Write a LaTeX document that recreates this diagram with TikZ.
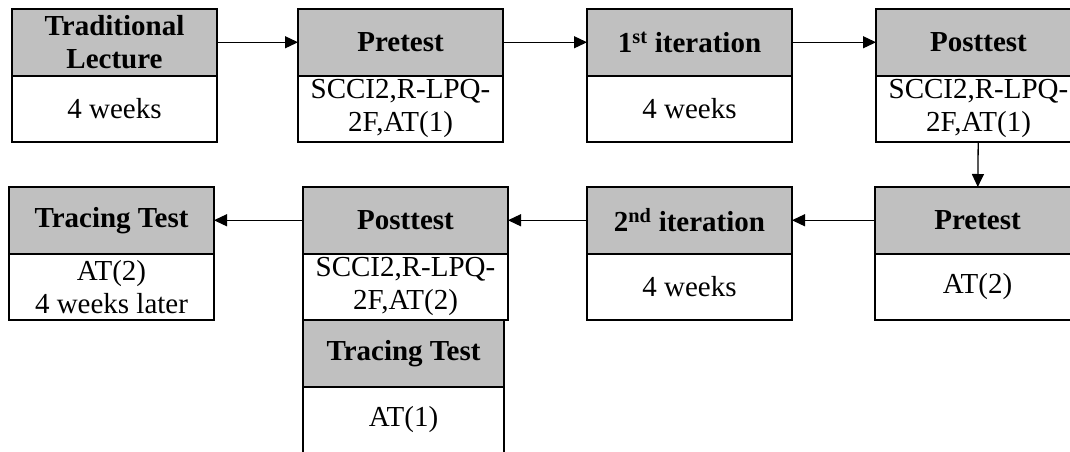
\documentclass[tikz,border=0pt]{standalone}
\usepackage{fontspec}
\setmainfont{Liberation Serif}
\usetikzlibrary{positioning}
\usetikzlibrary{arrows.meta}

\definecolor{headgray}{RGB}{192,192,192}

\tikzset{
  head/.style={draw, line width=2pt, fill=headgray, minimum width=205pt,
    minimum height=66.5pt, inner sep=0pt, outer sep=0pt, align=center,
    font=\fontsize{29}{33}\selectfont\bfseries},
  body/.style={draw, line width=2pt, fill=white, minimum width=205pt,
    minimum height=66.5pt, inner sep=0pt, outer sep=0pt, align=center,
    font=\fontsize{29}{33}\selectfont},
  link/.style={line width=1.3pt, -{Triangle[length=13pt, width=12pt]}}
}

\begin{document}
\begin{tikzpicture}[x=1pt, y=-1pt]
\useasboundingbox (0,0) rectangle (1070,451);
\clip (0,0) rectangle (1070,451);

% top row
\node[head] (lecH) at (114.5,42.25) {Traditional\\Lecture};
\node[body, below=0pt of lecH] (lecB) {4 weeks};

\node[head] (preAH) at (400.5,42.25) {Pretest};
\node[body, below=0pt of preAH] (preAB) {SCCI2,R-LPQ-\\2F,AT(1)};

\node[head] (itAH) at (689.5,42.25) {1\textsuperscript{st} iteration};
\node[body, below=0pt of itAH] (itAB) {4 weeks};

\node[head] (postAH) at (978.5,42.25) {Posttest};
\node[body, below=0pt of postAH] (postAB) {SCCI2,R-LPQ-\\2F,AT(1)};

% bottom row
\node[head] (preBH) at (977.5,220.25) {Pretest};
\node[body, below=0pt of preBH] (preBB) {AT(2)};

\node[head] (itBH) at (689.5,220.25) {2\textsuperscript{nd} iteration};
\node[body, below=0pt of itBH] (itBB) {4 weeks};

\node[head] (postBH) at (405.5,220.25) {Posttest};
\node[body, below=0pt of postBH] (postBB) {SCCI2,R-LPQ-\\2F,AT(2)};

\node[head] (traceBH) at (111.5,220.25) {Tracing Test};
\node[body, below=0pt of traceBH] (traceBB) {AT(2)\\4 weeks later};

\node[head, minimum width=201pt, anchor=north west] (traceAH) at (postBB.south west) {Tracing Test};
\node[body, minimum width=201pt, below=0pt of traceAH] (traceAB) {AT(1)};

\draw[link] (lecH) -- (preAH);
\draw[link] (preAH) -- (itAH);
\draw[link] (itAH) -- (postAH);
\draw[link] (postAB) -- (preBH);
\draw[link] (preBH) -- (itBH);
\draw[link] (itBH) -- (postBH);
\draw[link] (postBH) -- (traceBH);
\end{tikzpicture}
\end{document}
